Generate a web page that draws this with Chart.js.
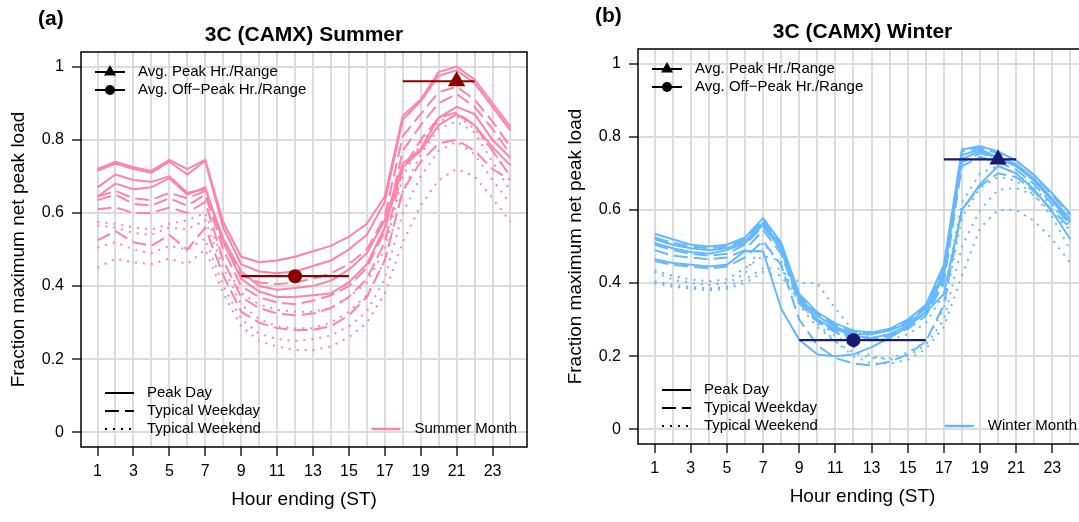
<!DOCTYPE html>
<html>
<head>
<meta charset="utf-8">
<title>3C (CAMX) net peak load</title>
<script src="https://cdn.jsdelivr.net/npm/chart.js@4.4.0/dist/chart.umd.min.js"></script>
<style>
  html, body { margin: 0; padding: 0; background: #fff; }
  #wrap { position: relative; width: 1079px; height: 522px; overflow: hidden; }
  #summerChart { position: absolute; left: 0; top: 0; }
  #winterChart { position: absolute; left: 557px; top: -3px; }
</style>
</head>
<body>
<div id="wrap">
  <canvas id="summerChart" width="540" height="522"></canvas>
  <canvas id="winterChart" width="545" height="522"></canvas>
</div>
<script>
const fontFamily = "'Liberation Sans', Arial, Helvetica, sans-serif";

// hours and tick labels
const hours = [1,2,3,4,5,6,7,8,9,10,11,12,13,14,15,16,17,18,19,20,21,22,23,24];
const xTickLabels = ["1","","3","","5","","7","","9","","11","","13","","15","","17","","19","","21","","23",""];
const yTicks = [0, 0.2, 0.4, 0.6, 0.8, 1];
const yTickLabels = ["0", "0.2", "0.4", "0.6", "0.8", "1"];

// Summer (one row per month)
const summerPeakDay = [
  [0.72,0.74,0.725,0.715,0.745,0.72,0.745,0.575,0.48,0.465,0.47,0.48,0.495,0.51,0.535,0.57,0.645,0.865,0.91,0.985,1.0,0.965,0.9,0.835],
  [0.715,0.735,0.72,0.71,0.74,0.705,0.742,0.56,0.46,0.44,0.435,0.44,0.455,0.47,0.5,0.54,0.63,0.855,0.905,0.975,0.99,0.955,0.89,0.825],
  [0.67,0.705,0.69,0.685,0.70,0.655,0.665,0.53,0.44,0.40,0.39,0.395,0.40,0.415,0.445,0.49,0.58,0.735,0.775,0.86,0.89,0.87,0.80,0.75],
  [0.645,0.68,0.665,0.67,0.695,0.65,0.67,0.52,0.42,0.385,0.37,0.37,0.375,0.38,0.41,0.46,0.56,0.725,0.77,0.84,0.87,0.84,0.78,0.73]
];
const summerWeekday = [
  [0.645,0.66,0.64,0.635,0.655,0.64,0.66,0.52,0.43,0.41,0.405,0.41,0.42,0.435,0.46,0.50,0.59,0.81,0.87,0.93,0.945,0.91,0.85,0.78],
  [0.635,0.65,0.625,0.62,0.64,0.62,0.65,0.50,0.40,0.37,0.355,0.35,0.36,0.375,0.40,0.45,0.55,0.77,0.84,0.90,0.925,0.89,0.83,0.76],
  [0.61,0.615,0.60,0.60,0.615,0.60,0.63,0.47,0.37,0.34,0.325,0.32,0.325,0.34,0.37,0.42,0.52,0.72,0.80,0.86,0.875,0.84,0.77,0.70],
  [0.525,0.55,0.52,0.51,0.54,0.50,0.56,0.43,0.33,0.30,0.285,0.28,0.28,0.29,0.32,0.37,0.47,0.66,0.74,0.79,0.80,0.77,0.72,0.69]
];
const summerWeekend = [
  [0.575,0.57,0.56,0.555,0.57,0.58,0.60,0.47,0.38,0.35,0.335,0.33,0.33,0.34,0.37,0.41,0.50,0.70,0.79,0.85,0.865,0.83,0.77,0.70],
  [0.565,0.56,0.545,0.54,0.56,0.555,0.58,0.45,0.35,0.31,0.29,0.285,0.285,0.30,0.33,0.375,0.47,0.66,0.76,0.83,0.85,0.82,0.74,0.66],
  [0.505,0.52,0.50,0.49,0.51,0.50,0.53,0.40,0.31,0.27,0.255,0.25,0.255,0.265,0.29,0.33,0.42,0.60,0.70,0.77,0.795,0.76,0.69,0.625],
  [0.45,0.475,0.465,0.46,0.475,0.46,0.50,0.38,0.29,0.25,0.235,0.225,0.225,0.235,0.26,0.30,0.38,0.52,0.62,0.69,0.72,0.70,0.64,0.575]
];
const summerPeakHr = [21, 0.96];
const summerPeakRange = [18, 22];
const summerOffPeakHr = [12, 0.427];
const summerOffPeakRange = [9, 15];

// Winter (one row per month)
const winterPeakDay = [
  [0.535,0.52,0.505,0.50,0.505,0.525,0.578,0.51,0.37,0.32,0.29,0.27,0.265,0.275,0.30,0.34,0.45,0.765,0.775,0.76,0.735,0.695,0.645,0.59],
  [0.52,0.505,0.495,0.49,0.495,0.515,0.565,0.50,0.36,0.31,0.28,0.26,0.26,0.27,0.29,0.33,0.43,0.75,0.765,0.745,0.725,0.685,0.63,0.575],
  [0.465,0.455,0.45,0.445,0.45,0.488,0.487,0.33,0.245,0.205,0.20,0.205,0.225,0.25,0.28,0.32,0.37,0.60,0.67,0.72,0.70,0.655,0.595,0.52],
  [0.51,0.495,0.485,0.48,0.49,0.51,0.56,0.49,0.355,0.30,0.275,0.255,0.25,0.26,0.285,0.32,0.42,0.74,0.76,0.74,0.72,0.68,0.625,0.565]
];
const winterWeekday = [
  [0.525,0.51,0.50,0.495,0.50,0.52,0.572,0.505,0.365,0.315,0.285,0.265,0.265,0.27,0.295,0.335,0.44,0.76,0.77,0.755,0.735,0.695,0.64,0.585],
  [0.505,0.49,0.48,0.475,0.48,0.505,0.555,0.49,0.35,0.30,0.27,0.25,0.25,0.26,0.28,0.32,0.41,0.73,0.755,0.74,0.72,0.68,0.625,0.57],
  [0.46,0.45,0.445,0.44,0.445,0.47,0.515,0.45,0.30,0.23,0.195,0.18,0.175,0.185,0.205,0.24,0.34,0.60,0.665,0.70,0.69,0.65,0.60,0.55],
  [0.49,0.475,0.47,0.465,0.47,0.49,0.545,0.48,0.345,0.295,0.265,0.245,0.245,0.255,0.275,0.31,0.40,0.72,0.745,0.73,0.71,0.67,0.615,0.56]
];
const winterWeekend = [
  [0.435,0.42,0.41,0.405,0.41,0.44,0.475,0.46,0.40,0.40,0.33,0.27,0.25,0.245,0.26,0.29,0.37,0.62,0.70,0.72,0.70,0.66,0.61,0.555],
  [0.405,0.395,0.39,0.385,0.39,0.41,0.44,0.44,0.36,0.30,0.255,0.225,0.20,0.19,0.20,0.23,0.30,0.50,0.60,0.655,0.66,0.64,0.59,0.545],
  [0.43,0.41,0.40,0.395,0.40,0.425,0.51,0.45,0.34,0.28,0.24,0.21,0.195,0.195,0.21,0.24,0.33,0.58,0.66,0.69,0.68,0.64,0.58,0.49],
  [0.40,0.39,0.385,0.38,0.385,0.40,0.43,0.42,0.35,0.29,0.24,0.20,0.18,0.18,0.19,0.22,0.28,0.42,0.55,0.60,0.60,0.57,0.52,0.455]
];
const winterPeakHr = [20, 0.738];
const winterPeakRange = [17, 21];
const winterOffPeakHr = [12, 0.244];
const winterOffPeakRange = [9, 16];

const markerLegend = ["Avg. Peak Hr./Range", "Avg. Off\u2212Peak Hr./Range"];
const dayTypeLegend = ["Peak Day", "Typical Weekday", "Typical Weekend"];

const dashSolid = [];
const dashLong = [14, 6];
const dashDot = [2, 6];

Chart.defaults.font.family = fontFamily;
Chart.defaults.color = "#000";

function drawSeg(ctx, x1, x2, y, color, dash, width) {
  ctx.save();
  ctx.strokeStyle = color;
  ctx.lineWidth = width || 2;
  ctx.setLineDash(dash);
  ctx.beginPath();
  ctx.moveTo(x1, y);
  ctx.lineTo(x2, y);
  ctx.stroke();
  ctx.restore();
}

function decorPlugin(p) {
  return {
    id: "decor",
    afterDraw(chart) {
      const ctx = chart.ctx;
      const a = chart.chartArea;
      ctx.save();

      // plot frame
      ctx.setLineDash([]);
      ctx.strokeStyle = "#000";
      ctx.lineWidth = 1.5;
      ctx.strokeRect(a.left, a.top, a.right - a.left, a.bottom - a.top);

      // panel tag and title
      ctx.fillStyle = "#000";
      ctx.textBaseline = "middle";
      ctx.font = "bold 21px " + fontFamily;
      ctx.textAlign = "left";
      ctx.fillText(p.tag, 38, 19);
      ctx.textAlign = "center";
      ctx.fillText(p.title, (a.left + a.right) / 2, a.top - 17);

      // marker legend (top left)
      ctx.font = "15px " + fontFamily;
      ctx.textAlign = "left";
      markerLegend.forEach((lab, i) => {
        const y = a.top + 20 + i * 18;
        drawSeg(ctx, a.left + 14, a.left + 44, y, "#000", dashSolid, 2);
        ctx.fillStyle = "#000";
        Chart.helpers.drawPoint(ctx, {
          pointStyle: i === 0 ? "triangle" : "circle",
          radius: i === 0 ? 7 : 5, rotation: 0, borderWidth: 0
        }, a.left + 29, y);
        ctx.fillStyle = "#000";
        ctx.fillText(lab, a.left + 57, y);
      });

      // day type legend (bottom left)
      const dashes = [dashSolid, dashLong, dashDot];
      dayTypeLegend.forEach((lab, i) => {
        const y = a.bottom - 54 + i * 18;
        drawSeg(ctx, a.left + 24, a.left + 53, y, "#000", dashes[i], 2);
        ctx.fillStyle = "#000";
        ctx.fillText(lab, a.left + 66, y);
      });

      // season legend (bottom right)
      const w = ctx.measureText(p.season).width;
      const tx = a.right - 10 - w;
      const y = a.bottom - 18;
      drawSeg(ctx, tx - 43, tx - 14, y, p.color, dashSolid, 2.5);
      ctx.fillStyle = "#000";
      ctx.fillText(p.season, tx, y);

      ctx.restore();
    }
  };
}

function buildPanel(canvasId, p) {
  const datasets = [];
  const addGroup = (rows, dash) => rows.forEach(r => datasets.push({
    data: hours.map((h, i) => ({ x: h, y: r[i] })),
    borderColor: p.color,
    borderWidth: 2,
    borderDash: dash,
    pointRadius: 0,
    fill: false,
    tension: 0,
    order: 2
  }));
  addGroup(p.peak, dashSolid);
  addGroup(p.weekday, dashLong);
  addGroup(p.weekend, dashDot);

  // average peak / off-peak hour with range
  [[p.peakHr, p.peakRange, "triangle", 10], [p.offHr, p.offRange, "circle", 7]].forEach(m => {
    datasets.push({
      data: m[1].map(h => ({ x: h, y: m[0][1] })),
      borderColor: p.markColor,
      borderWidth: 2.2,
      pointRadius: 0,
      order: 1
    });
    datasets.push({
      data: [{ x: m[0][0], y: m[0][1] }],
      showLine: false,
      pointStyle: m[2],
      pointRadius: m[3],
      pointBackgroundColor: p.markColor,
      pointBorderColor: p.markColor,
      pointBorderWidth: 0,
      order: 0
    });
  });

  return new Chart(document.getElementById(canvasId), {
    type: "line",
    data: { datasets },
    options: {
      responsive: false,
      animation: false,
      events: [],
      layout: { padding: { left: 0, top: 52, right: p.padRight, bottom: 0 } },
      plugins: { legend: { display: false }, title: { display: false }, tooltip: { enabled: false } },
      scales: {
        x: {
          type: "linear",
          min: 0.08,
          max: 24.92,
          afterBuildTicks: s => { s.ticks = hours.map(h => ({ value: h })); },
          afterFit: s => { s.height = 75; },
          ticks: {
            autoSkip: false,
            maxRotation: 0,
            padding: 6,
            font: { size: 16 },
            callback: (v, i) => xTickLabels[i]
          },
          grid: {
            color: "#dcdcdc",
            lineWidth: 2,
            tickLength: 9,
            tickWidth: 1.3,
            tickColor: c => (c.tick && c.tick.value % 2 === 1) ? "#000" : "rgba(0,0,0,0)"
          },
          border: { display: false },
          title: {
            display: true,
            text: "Hour ending (ST)",
            font: { size: 19 },
            padding: { top: 0, bottom: 11 }
          }
        },
        y: {
          min: -0.04,
          max: 1.04,
          afterBuildTicks: s => { s.ticks = yTicks.map(v => ({ value: v })); },
          afterFit: s => { s.width = 81; },
          ticks: {
            padding: 8,
            font: { size: 16 },
            callback: (v, i) => yTickLabels[i]
          },
          grid: {
            color: "#dcdcdc",
            lineWidth: 2,
            tickLength: 9,
            tickWidth: 1.3,
            tickColor: "#000"
          },
          border: { display: false },
          title: {
            display: true,
            text: "Fraction maximum net peak load",
            font: { size: 19 },
            padding: { top: 7, bottom: 0 }
          }
        }
      }
    },
    plugins: [decorPlugin(p)]
  });
}

buildPanel("summerChart", {
  tag: "(a)", title: "3C (CAMX) Summer", season: "Summer Month",
  color: "#FF82AB", markColor: "#8B0000", padRight: 13,
  peak: summerPeakDay, weekday: summerWeekday, weekend: summerWeekend,
  peakHr: summerPeakHr, peakRange: summerPeakRange,
  offHr: summerOffPeakHr, offRange: summerOffPeakRange
});

buildPanel("winterChart", {
  tag: "(b)", title: "3C (CAMX) Winter", season: "Winter Month",
  color: "#63B8FF", markColor: "#191970", padRight: 15,
  peak: winterPeakDay, weekday: winterWeekday, weekend: winterWeekend,
  peakHr: winterPeakHr, peakRange: winterPeakRange,
  offHr: winterOffPeakHr, offRange: winterOffPeakRange
});
</script>
</body>
</html>
